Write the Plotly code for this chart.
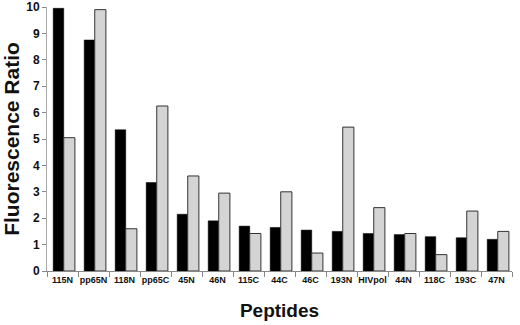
import plotly.graph_objects as go

peptides = ["115N", "pp65N", "118N", "pp65C", "45N", "46N", "115C", "44C",
            "46C", "193N", "HIVpol", "44N", "118C", "193C", "47N"]
black_values = [9.95, 8.75, 5.35, 3.35, 2.15, 1.9, 1.7, 1.65, 1.55, 1.5, 1.42, 1.38, 1.3, 1.26, 1.2]
gray_values = [5.05, 9.9, 1.6, 6.25, 3.6, 2.95, 1.42, 3.0, 0.68, 5.45, 2.4, 1.42, 0.62, 2.27, 1.5]

FONT = "Liberation Sans, Arial, sans-serif"

fig = go.Figure()
fig.add_trace(go.Bar(x=peptides, y=black_values, name="A", width=0.34, offset=-0.3,
                     marker=dict(color="#000000", line=dict(color="#000000", width=0.5))))
fig.add_trace(go.Bar(x=peptides, y=gray_values, name="B", width=0.36, offset=0.04,
                     marker=dict(color="#d4d4d4", line=dict(color="#333333", width=1))))

fig.update_layout(
    width=520, height=325,
    margin=dict(l=47, r=8, t=7, b=54),
    paper_bgcolor="white", plot_bgcolor="white",
    barmode="group",
    showlegend=False,
    font=dict(family=FONT, color="#111111"),
    xaxis=dict(
        automargin=False,
        title=dict(text="<b>Peptides</b>", font=dict(size=19, family=FONT), standoff=19),
        tickfont=dict(size=9, family=FONT), tickangle=0,
        tickprefix="<b>", ticksuffix="</b>",
        showline=True, linecolor="#888888", linewidth=1,
        ticks="outside", tickson="boundaries", ticklen=5, tickcolor="#888888",
        showgrid=False,
    ),
    yaxis=dict(
        automargin=False,
        title=dict(text="<b>Fluorescence Ratio</b>", font=dict(size=21, family=FONT), standoff=8),
        range=[0, 10], dtick=1,
        tickfont=dict(size=12, family=FONT),
        tickprefix="<b>", ticksuffix="</b>",
        showline=True, linecolor="#aaaaaa", linewidth=1,
        ticks="outside", ticklen=4, tickcolor="#888888",
        showgrid=False, zeroline=False,
    ),
)

fig.write_html("out.html", config={"displayModeBar": False},
               post_script="document.body.style.margin='0';")
